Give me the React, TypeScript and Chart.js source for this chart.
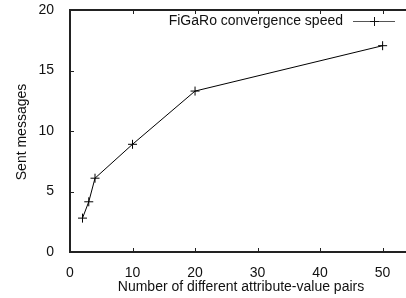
import React, { useEffect, useRef } from "react";
import { Chart, registerables } from "chart.js";

Chart.register(...registerables);

const xValues = [2, 3, 4, 10, 20, 50];
const sentMessages = [2.8, 4.15, 6.1, 8.9, 13.3, 17.05];
const xTicks = [0, 10, 20, 30, 40, 50];
const yTicks = [0, 5, 10, 15, 20];
const seriesLabel = "FiGaRo convergence speed";
const xTitle = "Number of different attribute-value pairs";
const yTitle = "Sent messages";

const FONT = "'Liberation Sans', Arial, sans-serif";
const AXIS = "#222";

const framePlugin = {
  id: "frame",
  afterDraw(chart: any) {
    const { ctx, chartArea: a, scales } = chart;
    const L = a.left, T = a.top, B = a.bottom, R = a.right;
    ctx.save();
    ctx.strokeStyle = AXIS;
    ctx.lineWidth = 2;
    ctx.beginPath();
    ctx.moveTo(R + 10, T);
    ctx.lineTo(L, T);
    ctx.lineTo(L, B);
    ctx.lineTo(R + 10, B);
    ctx.stroke();
    ctx.lineWidth = 1;
    ctx.beginPath();
    for (const v of xTicks) {
      const px = Math.round(scales.x.getPixelForValue(v)) + 0.5;
      ctx.moveTo(px, B);
      ctx.lineTo(px, B - 4);
      ctx.moveTo(px, T);
      ctx.lineTo(px, T + 4);
    }
    for (const v of yTicks) {
      const py = Math.round(scales.y.getPixelForValue(v)) + 0.5;
      ctx.moveTo(L, py);
      ctx.lineTo(L + 4, py);
    }
    ctx.stroke();

    ctx.fillStyle = "#111";
    ctx.font = `14px ${FONT}`;
    ctx.textAlign = "center";
    ctx.textBaseline = "middle";
    ctx.fillText(xTitle, 241, 287);
    ctx.save();
    ctx.translate(22, 132);
    ctx.rotate(-Math.PI / 2);
    ctx.fillText(yTitle, 0, 0);
    ctx.restore();

    ctx.textAlign = "right";
    ctx.fillText(seriesLabel, 343, 21);
    ctx.strokeStyle = "#555";
    ctx.lineWidth = 1;
    ctx.beginPath();
    ctx.moveTo(353, 21.5);
    ctx.lineTo(395, 21.5);
    ctx.stroke();
    ctx.strokeStyle = "#111";
    ctx.beginPath();
    ctx.moveTo(374.5, 17);
    ctx.lineTo(374.5, 26);
    ctx.moveTo(370, 21.5);
    ctx.lineTo(379, 21.5);
    ctx.stroke();
    ctx.restore();
  },
};

export default function App() {
  const ref = useRef<HTMLCanvasElement>(null);
  useEffect(() => {
    if (!ref.current) return;
    const chart = new Chart(ref.current, {
      type: "line",
      data: {
        datasets: [
          {
            label: seriesLabel,
            data: xValues.map((x, i) => ({ x, y: sentMessages[i] })),
            borderColor: "#000",
            borderWidth: 1,
            pointStyle: "cross",
            pointRadius: 4.5,
            pointBorderColor: "#000",
            pointBorderWidth: 1,
            fill: false,
            tension: 0,
          },
        ],
      },
      options: {
        responsive: false,
        animation: false,
        layout: { padding: { top: 10, right: 0, left: 0, bottom: 0 } },
        plugins: { legend: { display: false }, tooltip: { enabled: false } },
        scales: {
          x: {
            type: "linear",
            min: 0,
            max: 55.1,
            afterBuildTicks: (s: any) => {
              s.ticks = xTicks.map((v) => ({ value: v }));
            },
            afterFit: (s: any) => {
              s.height = 46;
              s.paddingLeft = 0;
              s.paddingRight = 0;
            },
            grid: { display: false },
            border: { display: true, color: AXIS, width: 2 },
            ticks: { padding: 5, color: "#111", font: { family: FONT, size: 14 }, maxRotation: 0 },
          },
          y: {
            type: "linear",
            min: 0,
            max: 20,
            afterBuildTicks: (s: any) => {
              s.ticks = yTicks.map((v) => ({ value: v }));
            },
            afterFit: (s: any) => {
              s.width = 70;
              s.paddingTop = 0;
              s.paddingBottom = 0;
            },
            grid: { display: false },
            border: { display: true, color: AXIS, width: 2 },
            ticks: { padding: 8, color: "#111", font: { family: FONT, size: 14 } },
          },
        },
      },
      plugins: [framePlugin],
    });
    return () => chart.destroy();
  }, []);
  return (
    <div style={{ position: "fixed", left: 0, top: 0, width: 406, height: 298, overflow: "hidden", background: "#fff" }}>
      <canvas ref={ref} width={420} height={298} style={{ width: 420, height: 298, display: "block" }} />
    </div>
  );
}
